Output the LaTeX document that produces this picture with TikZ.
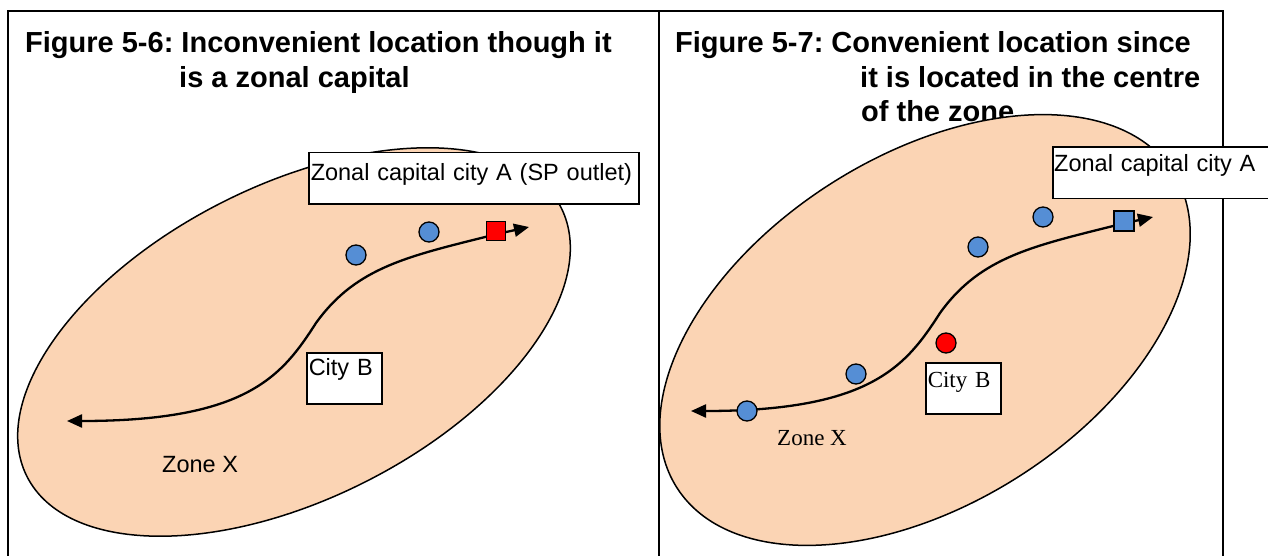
\documentclass[tikz,border=0pt]{standalone}
\usepackage{fontspec}
\setmainfont{Liberation Sans}
\newfontfamily\serifA{Liberation Serif}
\usetikzlibrary{arrows.meta,shapes.geometric}
\definecolor{peach}{HTML}{FBD4B4}
\definecolor{cityblue}{HTML}{558ED5}
\definecolor{cityred}{HTML}{FF0000}
\frenchspacing
\begin{document}
\begin{tikzpicture}[x=1pt,y=-1pt,
  frame/.style={line width=1.8pt},
  ttl/.style={anchor=base west, inner sep=0pt, font=\fontsize{29}{34}\selectfont\bfseries},
  zone/.style={ellipse, draw, line width=1.5pt, fill=peach, inner sep=0pt},
  road/.style={line width=2.3pt, arrows={Triangle[length=15pt,width=13pt]-Triangle[length=15pt,width=13pt]}},
  town/.style={circle, draw, line width=1.3pt, fill=cityblue, minimum size=20pt, inner sep=0pt},
  sq/.style={rectangle, draw, line width=1.3pt, minimum size=19.5pt, inner sep=0pt},
  sanslab/.style={font=\fontsize{23.5}{28}\selectfont},
  seriflab/.style={font=\serifA\fontsize{23}{27}\selectfont},
  box/.style={rectangle, draw, line width=1.5pt, fill=white, inner xsep=2pt, inner ysep=0pt, align=left, anchor=north west},
  boxline/.style={line width=1.5pt}
]
\useasboundingbox (0,0) rectangle (1268,556);

% ---------- left panel ----------
\draw[frame] (8,556) -- (8,11) -- (659,11) -- (659,556);
\node[ttl] (t1a) at (25,53) {Figure 5-6: Inconvenient location though it};
\node[ttl] (t1b) at (179,87.5) {is a zonal capital};
\node[zone, minimum width=598pt, minimum height=314pt, rotate=26.7] (zoneL) at (294,342) {};
\begin{scope}[shift={(67,421)}]
  \coordinate (Ls) at (0,0);
  \coordinate (Lm) at (249,-98);
  \coordinate (Le) at (430,-187);
  \coordinate (Lt) at (462,-194);
\end{scope}
\draw[road] (Ls) .. controls +(180,0) and +(-34,53) .. (Lm) .. controls +(41,-57) and +(-87,22) .. (Le) -- (Lt);
\node[town] (l1) at (356,255) {};
\node[town] (l2) at (429,232) {};
\node[sq, fill=cityred] (capL) at (496,231) {};
\node[box, sanslab, text width=326pt, text height=28pt, text depth=23pt] (capLabelL) at (308,152) {Zonal capital city A (SP outlet)};
\node[box, sanslab, text width=71pt, text height=23pt, text depth=28pt] (cityBL) at (306,352) {City B};
\node[sanslab, anchor=base west, inner sep=0pt] (zoneXL) at (162,472) {Zone X};

% ---------- right panel ----------
\draw[frame] (659,556) -- (659,11) -- (1223,11) -- (1223,556);
\node[ttl] (t2a) at (675,53) {Figure 5-7: Convenient location since};
\node[ttl] (t2b) at (860,87.5) {it is located in the centre};
\node[ttl] (t2c) at (861,122) {of the zone};
\node[zone, minimum width=588pt, minimum height=348pt, rotate=32.4] (zoneR) at (925,330) {};
\begin{scope}[shift={(691,411)}]
  \coordinate (Rs) at (0,0);
  \coordinate (Rm) at (249,-98);
  \coordinate (Re) at (430,-187);
  \coordinate (Rt) at (462,-194);
\end{scope}
\draw[road] (Rs) .. controls +(180,0) and +(-34,53) .. (Rm) .. controls +(41,-57) and +(-87,22) .. (Re) -- (Rt);
\node[town] (r1) at (747,411) {};
\node[town] (r2) at (856,374) {};
\node[town] (r3) at (978,247) {};
\node[town] (r4) at (1043,217) {};
\node[town, fill=cityred] (rB) at (946,343) {};
\node[sq, fill=cityblue, minimum size=20pt] (capR) at (1124,221) {};
\node[rectangle, fill=white, inner xsep=1pt, inner ysep=0pt, align=left, anchor=north west, sanslab, text width=213pt, text height=24pt, text depth=27pt] (capLabelR) at (1053,147) {Zonal capital city A};
\draw[boxline] (capLabelR.north east) -- (capLabelR.north west) -- (capLabelR.south west) -- (capLabelR.south east);
\node[box, seriflab, text width=71pt, text height=25pt, text depth=26pt] (cityBR) at (925,362) {City B};
\node[seriflab, anchor=base west, inner sep=0pt] (zoneXR) at (777,445) {Zone X};
\end{tikzpicture}
\end{document}
